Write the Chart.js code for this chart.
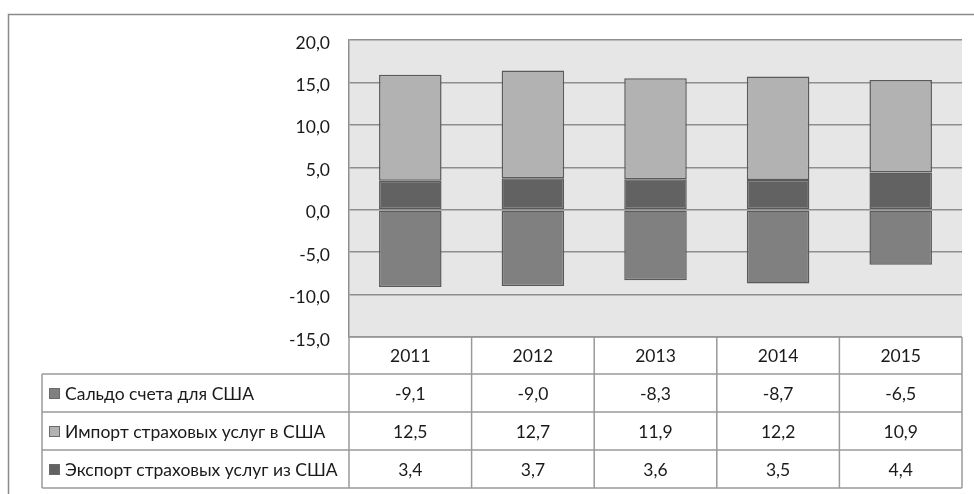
<!DOCTYPE html>
<html>
<head>
<meta charset="utf-8">
<script src="https://cdn.jsdelivr.net/npm/chart.js@4"></script>
<style>
  html, body { margin: 0; padding: 0; background: #fff; }
  #wrap { width: 974px; height: 494px; position: relative; }
</style>
</head>
<body>
<div id="wrap"><canvas id="chart" width="974" height="494"></canvas></div>
<script>
// ДАННЫЕ
const years = ["2011", "2012", "2013", "2014", "2015"];
const saldo = [-9.1, -9.0, -8.3, -8.7, -6.5];
const importUS = [12.5, 12.7, 11.9, 12.2, 10.9];
const exportUS = [3.4, 3.7, 3.6, 3.5, 4.4];
const yTicks = [20, 15, 10, 5, 0, -5, -10, -15];

const seriesNames = {
  saldo: "Сальдо счета для США",
  imp: "Импорт страховых услуг в США",
  exp: "Экспорт страховых услуг из США"
};

const colors = {
  saldo: "#808080",
  imp: "#b2b2b2",
  exp: "#626262",
  border: "#5a5a5a",
  plotBg: "#e6e6e6",
  grid: "#8e8e8e",
  table: "#9a9a9a",
  text: "#1a1a1a"
};

const FONT = "Lato, 'Open Sans', sans-serif";
const FONT_SIZE = 17.5;
const fmt = (v) => v.toFixed(1).replace(".", ",");

// рамка, фон области построения
const backdrop = {
  id: "backdrop",
  beforeDraw(chart) {
    const { ctx, chartArea: a } = chart;
    ctx.save();
    ctx.fillStyle = colors.plotBg;
    ctx.fillRect(a.left, a.top, a.right - a.left, a.bottom - a.top);
    ctx.strokeStyle = "#8a8a8a";
    ctx.lineWidth = 1.5;
    ctx.beginPath();
    ctx.moveTo(8.5, 494);
    ctx.lineTo(8.5, 14.5);
    ctx.lineTo(974, 14.5);
    ctx.stroke();
    ctx.restore();
  }
};

// таблица данных под графиком
const dataTable = {
  id: "dataTable",
  afterDraw(chart) {
    const { ctx, chartArea: a, scales } = chart;
    const x = scales.x;
    const step = (a.right - a.left) / years.length;
    const tableLeft = 42;
    const rowTops = [a.bottom, 374, 412, 450, 488];
    const rows = [
      { name: seriesNames.saldo, color: colors.saldo, data: saldo },
      { name: seriesNames.imp, color: colors.imp, data: importUS },
      { name: seriesNames.exp, color: colors.exp, data: exportUS }
    ];

    ctx.save();
    ctx.strokeStyle = colors.table;
    ctx.lineWidth = 1.5;
    ctx.beginPath();
    // горизонтальные линии
    ctx.moveTo(a.left, rowTops[0]); ctx.lineTo(a.right, rowTops[0]);
    for (let i = 1; i < rowTops.length; i++) {
      ctx.moveTo(tableLeft, rowTops[i]); ctx.lineTo(a.right, rowTops[i]);
    }
    // вертикальные линии
    ctx.moveTo(tableLeft, rowTops[1]); ctx.lineTo(tableLeft, rowTops[4]);
    for (let i = 0; i <= years.length; i++) {
      const px = a.left + step * i;
      ctx.moveTo(px, rowTops[0]); ctx.lineTo(px, rowTops[4]);
    }
    ctx.stroke();

    ctx.fillStyle = colors.text;
    ctx.font = FONT_SIZE + "px " + FONT;
    ctx.textAlign = "center";
    ctx.textBaseline = "middle";
    years.forEach((yr, i) => {
      ctx.fillText(yr, x.getPixelForValue(i), (rowTops[0] + rowTops[1]) / 2 + 1);
    });

    rows.forEach((r, ri) => {
      const cy = (rowTops[ri + 1] + rowTops[ri + 2]) / 2 + 1;
      // ключ легенды
      ctx.fillStyle = r.color;
      ctx.fillRect(49, cy - 6, 11, 11);
      ctx.strokeStyle = "#6a6a6a";
      ctx.lineWidth = 1;
      ctx.strokeRect(49.5, cy - 5.5, 10, 10);
      ctx.fillStyle = colors.text;
      ctx.textAlign = "left";
      ctx.fillText(r.name, 65, cy);
      ctx.textAlign = "center";
      r.data.forEach((v, i) => {
        ctx.fillText(fmt(v), x.getPixelForValue(i), cy);
      });
    });
    ctx.restore();
  }
};

const barBase = {
  borderColor: colors.border,
  borderWidth: 1.5,
  borderSkipped: false,
  barPercentage: 0.51,
  categoryPercentage: 1
};

new Chart(document.getElementById("chart"), {
  type: "bar",
  data: {
    labels: years,
    datasets: [
      { ...barBase, label: seriesNames.saldo, data: saldo, backgroundColor: colors.saldo },
      { ...barBase, label: seriesNames.exp, data: exportUS, backgroundColor: colors.exp },
      { ...barBase, label: seriesNames.imp, data: importUS, backgroundColor: colors.imp }
    ]
  },
  options: {
    responsive: false,
    animation: false,
    layout: { padding: { top: 40, right: 12, bottom: 157, left: 0 } },
    plugins: {
      legend: { display: false },
      tooltip: { enabled: false }
    },
    scales: {
      x: {
        stacked: true,
        display: false
      },
      y: {
        stacked: true,
        min: -15,
        max: 20,
        afterFit(scale) { scale.width = 349; },
        afterBuildTicks(scale) { scale.ticks = yTicks.map((v) => ({ value: v })); },
        grid: { color: colors.grid, lineWidth: 1.5, drawTicks: false },
        border: { color: colors.grid, width: 1.5 },
        ticks: {
          padding: 19,
          labelOffset: 3,
          color: colors.text,
          font: { family: FONT, size: FONT_SIZE },
          callback: (v) => fmt(v)
        }
      }
    }
  },
  plugins: [backdrop, dataTable]
});
</script>
</body>
</html>
